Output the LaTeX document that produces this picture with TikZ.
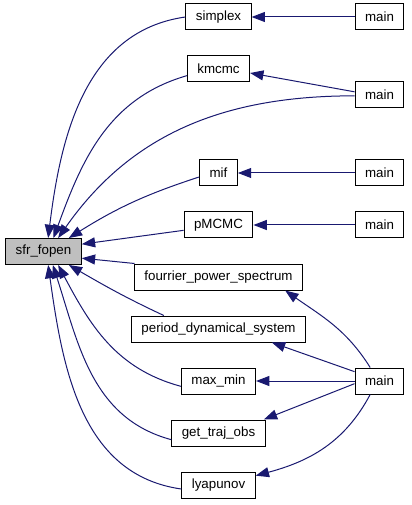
\documentclass[tikz,border=0pt]{standalone}
\usepackage{fontspec}
\setsansfont{Liberation Sans}
\usepackage{xcolor}
\definecolor{callblue}{HTML}{191970}
\definecolor{focusgray}{HTML}{BFBFBF}
\usetikzlibrary{arrows.meta, positioning}

\begin{document}
\begin{tikzpicture}[
  x=0.75pt, y=-0.75pt,
  fn/.style={draw=black, fill=#1, line width=0.75pt,
    minimum height=19.5pt, inner xsep=7.5pt,
    font=\sffamily\fontsize{10}{12}\selectfont},
  fn/.default=white,
  call/.style={draw=callblue, line width=0.75pt,
    -{Triangle[length=10pt, width=7.5pt, fill=callblue]}}
]
  \useasboundingbox (0,0) rectangle (411,505);

  % focus function
  \node[fn=focusgray] (sfr) at (43.5,251.5) {sfr\_fopen};

  % direct callers
  \node[fn] (simplex) at (218.5,17)  {simplex};
  \node[fn] (kmcmc)   at (218.5,69)  {kmcmc};
  \node[fn] (mif)     at (218.5,173) {mif};
  \node[fn] (pmcmc)   at (218.5,225) {pMCMC};
  \node[fn] (fourier) at (218.5,277) {fourrier\_power\_spectrum};
  \node[fn] (period)  at (218.5,329) {period\_dynamical\_system};
  \node[fn] (maxmin)  at (218.5,381) {max\_min};
  \node[fn] (traj)    at (218.5,433) {get\_traj\_obs};
  \node[fn] (lyap)    at (218.5,485) {lyapunov};

  % main programs
  \node[fn] (mainA) at (379.5,17)   {main};
  \node[fn] (mainB) at (379.5,94.5) {main};
  \node[fn] (mainC) at (379.5,173)  {main};
  \node[fn] (mainD) at (379.5,225)  {main};
  \node[fn] (mainE) at (379.5,381)  {main};

  % calls into sfr_fopen
  \draw[call] (simplex.west) to[out=188, in=83] ([xshift=3.5pt]sfr.north);
  \draw[call] ([yshift=-5pt]kmcmc.west) to[out=196, in=70] ([xshift=7.5pt]sfr.north);
  \draw[call] ([yshift=-1pt]mainB.west) to[out=180, in=55] ([xshift=11pt]sfr.north);
  \draw[call] ([yshift=-3pt]mif.west) to[out=198, in=32] ([xshift=19pt]sfr.north);
  \draw[call] ([yshift=-4pt]pmcmc.west) -- ([yshift=5.5pt]sfr.east);
  \draw[call] ([xshift=-63pt]fourier.north) -- ([yshift=-5pt]sfr.east);
  \draw[call] ([xshift=-41pt]period.north) to[out=155, in=-30] ([xshift=19pt]sfr.south);
  \draw[call] ([yshift=-4pt]maxmin.west) to[out=165, in=-62] ([xshift=11pt]sfr.south);
  \draw[call] ([yshift=-5pt]traj.west) to[out=165, in=-72] ([xshift=7pt]sfr.south);
  \draw[call] ([yshift=-3pt]lyap.west) to[out=172, in=-82] ([xshift=3.5pt]sfr.south);

  % calls from main
  \draw[call] (mainA) -- (simplex);
  \draw[call] ([yshift=2pt]mainB.west) -- ([yshift=-3pt]kmcmc.east);
  \draw[call] (mainC) -- (mif);
  \draw[call] (mainD) -- (pmcmc);
  \draw[call] ([xshift=-7pt]mainE.north) to[out=122, in=-35] ([xshift=50pt]fourier.south);
  \draw[call] ([yshift=7pt]mainE.west) -- ([xshift=40pt]period.south);
  \draw[call] (mainE) -- (maxmin);
  \draw[call] ([yshift=-2pt]mainE.west) -- ([xshift=34pt]traj.north);
  \draw[call] ([xshift=-7pt]mainE.south) to[out=-118, in=15] ([yshift=7pt]lyap.east);
\end{tikzpicture}
\end{document}
